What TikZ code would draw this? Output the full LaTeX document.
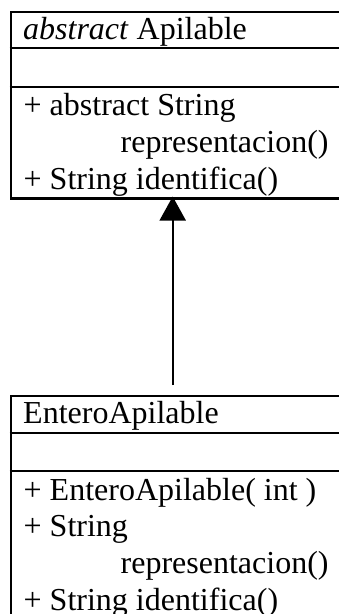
\documentclass[tikz,border=0pt]{standalone}
\usepackage{fontspec}
\setmainfont{Liberation Serif}
\usetikzlibrary{arrows.meta}
\begin{document}
\begin{tikzpicture}[x=1pt,y=-1pt,
  classbox/.style={draw=black,line width=2.2pt,inner sep=0pt,anchor=north west,minimum width=380pt},
  rule/.style={draw=black,line width=2.2pt},
  member/.style={inner sep=0pt,anchor=base west,font=\fontsize{32}{36.8}\selectfont},
  generalization/.style={line width=2pt,-{Triangle[length=24pt,width=26pt]}}]
\useasboundingbox (0,0) rectangle (339,614);
\clip (0,0) rectangle (339,614);

% abstract superclass
\node[classbox,minimum height=186.8pt] (sup) at (9.5,10.5) {};
\draw[rule] (9.5,48) -- (390,48);
\draw[rule] (9.5,87) -- (390,87);
\node[member] (supname) at (23,39) {\textit{abstract} Apilable};
\node[member] (supm1) at (23.5,115.5) {+ abstract String};
\node[member] (supm2) at (120.5,152.3) {representacion()};
\node[member] (supm3) at (23.5,189.1) {+ String identifica()};

% concrete subclass
\node[classbox,minimum height=250pt] (sub) at (9.5,395) {};
\draw[rule] (9.5,433) -- (390,433);
\draw[rule] (9.5,471.3) -- (390,471.3);
\node[member] (subname) at (23,423.5) {EnteroApilable};
\node[member] (subm1) at (23.5,500) {+ EnteroApilable( int )};
\node[member] (subm2) at (23.5,536.8) {+ String};
\node[member] (subm3) at (120.5,573.6) {representacion()};
\node[member] (subm4) at (23.5,610.4) {+ String identifica()};

% inheritance arrow, its tip reaching just past the superclass frame
\coordinate (tail) at (172.7,385);
\draw[generalization,shorten >=-3pt] (tail) -- (tail |- sup.south);
\end{tikzpicture}
\end{document}
